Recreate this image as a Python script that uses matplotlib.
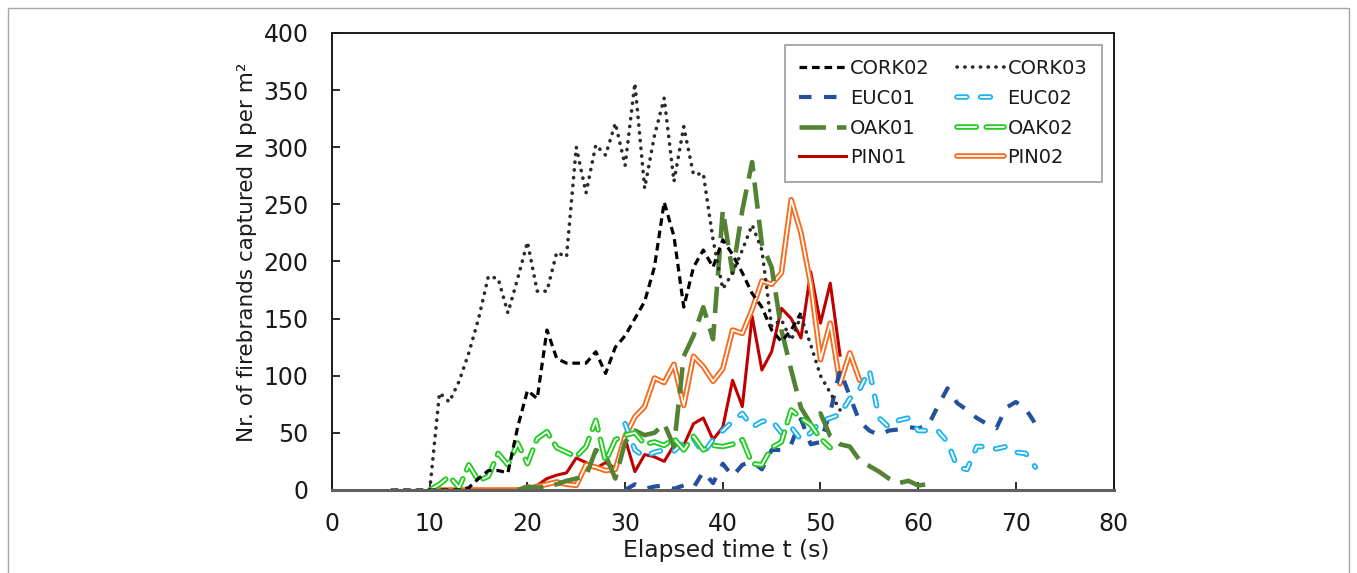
import numpy as np
import matplotlib
matplotlib.use('Agg')
import matplotlib.pyplot as plt
import matplotlib.patheffects as pe
from matplotlib.patches import Rectangle

plt.rcParams['font.family'] = ['DejaVu Sans']
plt.rcParams['lines.scale_dashes'] = False

# firebrand counts per m2, one value per second
cork02_t = np.arange(6, 49)
cork02 = [0, 0, 0, 0, 0, 0, 0, 0, 2, 10, 17, 17, 15, 55, 87, 80, 140, 115, 111, 111,
          111, 121, 102, 125, 135, 150, 165, 195, 252, 222, 160, 195, 210, 195, 219, 206,
          190, 172, 160, 140, 130, 140, 155]

cork03_t = np.arange(10, 53)
cork03 = [0, 85, 77, 95, 120, 150, 187, 185, 155, 185, 217, 174, 174, 208, 204, 300,
          260, 302, 293, 321, 284, 356, 264, 310, 343, 270, 318, 276, 277, 219, 176, 190,
          210, 232, 210, 143, 149, 131, 152, 127, 100, 85, 70]

euc01_t = np.arange(30, 74)
euc01 = [0, 5, 1, 3, 4, 1, 4, 2, 16, 6, 23, 12, 22, 25, 18, 35, 35, 40, 62, 40, 42, 68,
         105, 82, 60, 52, 48, 52, 53, 55, 54, 56, 73, 89, 76, 70, 63, 58, 54, 72, 77, 71,
         58, 54]

euc02_t = np.arange(30, 73)
euc02 = [58, 35, 29, 33, 35, 34, 42, 45, 32, 44, 52, 60, 67, 55, 60, 61, 50, 55, 44, 50,
         60, 63, 66, 80, 88, 105, 63, 55, 61, 63, 52, 52, 52, 42, 20, 18, 38, 38, 36, 38,
         33, 32, 20]

oak01_t = np.arange(19, 62)
oak01 = [0, 3, 2, 3, 5, 8, 10, 12, 35, 30, 10, 42, 52, 48, 50, 58, 38, 117, 135, 160,
         132, 245, 190, 245, 287, 215, 195, 140, 105, 72, 58, 67, 47, 40, 38, 26, 21, 16,
         10, 6, 8, 4, 5]

oak02_t = np.arange(10, 52)
oak02 = [0, 5, 12, 2, 22, 8, 12, 32, 22, 41, 23, 45, 51, 37, 33, 29, 38, 61, 25, 44,
         48, 50, 40, 42, 39, 45, 35, 47, 35, 39, 38, 40, 44, 23, 22, 37, 42, 70, 63, 57,
         45, 37]

pin01_t = np.arange(11, 53)
pin01 = [0, 0, 0, 0, 0, 0, 0, 0, 0, 2, 4, 10, 13, 15, 28, 24, 19, 24, 19, 45, 16, 31,
         29, 25, 39, 39, 58, 63, 44, 55, 96, 73, 152, 105, 121, 159, 150, 133, 191, 146,
         181, 118]

pin02_t = np.arange(11, 55)
pin02 = [0, 0, 0, 0, 0, 0, 0, 0, 0, 0, 3, 5, 7, 5, 4, 22, 20, 17, 18, 47, 64, 73, 98,
         94, 110, 74, 117, 108, 95, 106, 140, 137, 158, 183, 180, 190, 254, 225, 180, 114,
         146, 93, 120, 96]

fig = plt.figure(figsize=(13.57, 5.73), dpi=100)
ax = fig.add_axes([0.2447, 0.1449, 0.5759, 0.7976])

def hollow(color, outer=4.0, inner=1.3):
    return dict(color='white', lw=inner,
                path_effects=[pe.Stroke(linewidth=outer, foreground=color), pe.Normal()])

h = {}
h['PIN01'], = ax.plot(pin01_t, pin01, color='#c00000', lw=2.2, label='PIN01')
h['PIN02'], = ax.plot(pin02_t, pin02, label='PIN02', solid_capstyle='round',
                      **hollow('#f96b1a'))
h['EUC01'], = ax.plot(euc01_t, euc01, color='#234f9c', lw=3.0, dashes=(9, 9), label='EUC01')
h['EUC02'], = ax.plot(euc02_t, euc02, dashes=(7, 10), dash_capstyle='round', label='EUC02',
                      **hollow('#1fb4f0'))
h['OAK01'], = ax.plot(oak01_t, oak01, color='#548235', lw=3.3, dashes=(19, 8), label='OAK01')
h['OAK02'], = ax.plot(oak02_t, oak02, dashes=(14, 7), dash_capstyle='round', label='OAK02',
                      **hollow('#22cc22'))
h['CORK02'], = ax.plot(cork02_t, cork02, color='black', lw=2.3, dashes=(5.5, 3.5),
                       label='CORK02')
h['CORK03'], = ax.plot(cork03_t, cork03, color='#2b2b2b', lw=2.6, dashes=(0.2, 5.4),
                       dash_capstyle='round', label='CORK03')

ax.set_xlim(0, 80)
ax.set_ylim(0, 400)
ax.set_xticks(np.arange(0, 81, 10))
ax.set_yticks(np.arange(0, 401, 50))
ax.tick_params(direction='in', length=6, width=1.3, labelsize=17, colors='#1a1a1a')
ax.tick_params(axis='x', pad=16)
ax.tick_params(axis='y', pad=17)
for s in ax.spines.values():
    s.set_linewidth(1.4)
    s.set_color('#1a1a1a')
ax.spines['bottom'].set_color('#606060')
ax.spines['bottom'].set_linewidth(2.2)

ax.set_xlabel('Elapsed time t (s)', fontsize=16.8, color='#1a1a1a')
ax.xaxis.set_label_coords(0.505, -0.108)
ax.set_ylabel('Nr. of firebrands captured N per m²', fontsize=15.5, color='#1a1a1a')
ax.yaxis.set_label_coords(-0.096, 0.52)

# legend reads row by row: fill column-major order accordingly
order = ['CORK02', 'EUC01', 'OAK01', 'PIN01', 'CORK03', 'EUC02', 'OAK02', 'PIN02']
leg = ax.legend([h[k] for k in order], order, ncol=2, loc='upper right', fontsize=14,
                frameon=True, fancybox=False, handlelength=2.4, handletextpad=0.2,
                columnspacing=1.4, labelspacing=0.55, borderaxespad=0.6, borderpad=0.75)
leg.get_frame().set_edgecolor('#8c8c8c')
leg.get_frame().set_linewidth(1.3)
for t in leg.get_texts():
    t.set_color('#1a1a1a')

fig.add_artist(Rectangle((8 / 1357, -0.02), 1341 / 1357, 1 - 8 / 573 + 0.02,
                         transform=fig.transFigure, fill=False,
                         edgecolor='#a6a6a6', lw=1.0))

fig.savefig('out.png', dpi=100)
